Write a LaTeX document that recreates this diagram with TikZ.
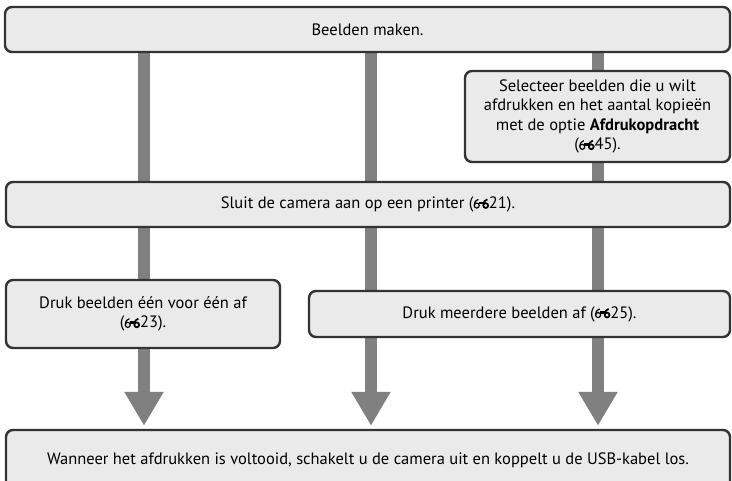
\documentclass[tikz,border=0pt]{standalone}
\usepackage{fontspec}
\setmainfont{PT Sans}
\usetikzlibrary{arrows.meta,backgrounds}
\definecolor{boxfill}{HTML}{EAEAEA}
\definecolor{boxline}{HTML}{333333}
\definecolor{barcol}{HTML}{808080}
\newcommand\refmark{\tikz[baseline=0pt,x=1pt,y=1pt]{%
  \draw[line width=1.2pt] (3,3) circle (2.5);
  \draw[line width=1.2pt] (0.6,3.6) .. controls (0.9,7) and (2.4,8.6) .. (4.6,9.2);
  \draw[line width=1.7pt] (12,3) circle (2.4);
  \draw[line width=1.7pt] (9.6,3.6) .. controls (9.9,7) and (11.4,8.6) .. (13.6,9.2);
  \draw[line width=2.4pt] (4.8,5.4) -- (10.2,5.4);
  \path (-0.3,0) rectangle (15,9);}}
\tikzset{
  stepbox/.style={draw=boxline, fill=boxfill, line width=2.4pt, rounded corners=7pt,
    inner sep=0pt, align=center, font=\fontsize{16.5}{19.5}\selectfont},
  bar/.style={draw=barcol, line width=12pt},
  bararrow/.style={bar, -{Triangle[width=37pt,length=34pt]}, shorten >=3pt}
}
\begin{document}
\begin{tikzpicture}[x=1pt,y=-1pt]
\useasboundingbox (0,0) rectangle (732,481);
\coordinate (c1) at (144,0);
\coordinate (c2) at (371,0);
\coordinate (c3) at (598,0);
\node[stepbox, minimum width=725pt, minimum height=45pt] (b1) at (367.5,29.5) {Beelden maken.};
\node[stepbox, minimum width=265pt, minimum height=91pt] (sel) at (597.5,116.5)
  {Selecteer beelden die u wilt\\afdrukken en het aantal kopieën\\met de optie \textbf{Afdrukopdracht}\\(\refmark45).};
\node[stepbox, minimum width=724pt, minimum height=45pt] (slu) at (368,204.5)
  {Sluit de camera aan op een printer (\refmark21).};
\node[stepbox, minimum width=274pt, minimum height=68pt] (dbe) at (143,314)
  {Druk beelden één voor één af\\(\refmark23).};
\node[stepbox, minimum width=421pt, minimum height=46pt] (dme) at (519.5,314)
  {Druk meerdere beelden af (\refmark25).};
\node[stepbox, minimum width=724pt, minimum height=60pt] (fin) at (368,460)
  {Wanneer het afdrukken is voltooid, schakelt u de camera uit en koppelt u de USB-kabel los.};
\begin{scope}[on background layer]
  \draw[bar] (b1.south -| c1) -- (slu.north -| c1);
  \draw[bar] (b1.south -| c2) -- (slu.north -| c2);
  \draw[bar] (b1.south -| c3) -- (sel.north -| c3);
  \draw[bar] (sel.south -| c3) -- (slu.north -| c3);
  \draw[bar] (slu.south -| c1) -- (dbe.north -| c1);
  \draw[bar] (slu.south -| c2) -- (dme.north -| c2);
  \draw[bar] (slu.south -| c3) -- (dme.north -| c3);
  \draw[bararrow] (dbe.south -| c1) -- (fin.north -| c1);
  \draw[bararrow] (dme.south -| c2) -- (fin.north -| c2);
  \draw[bararrow] (dme.south -| c3) -- (fin.north -| c3);
\end{scope}
\end{tikzpicture}
\end{document}
